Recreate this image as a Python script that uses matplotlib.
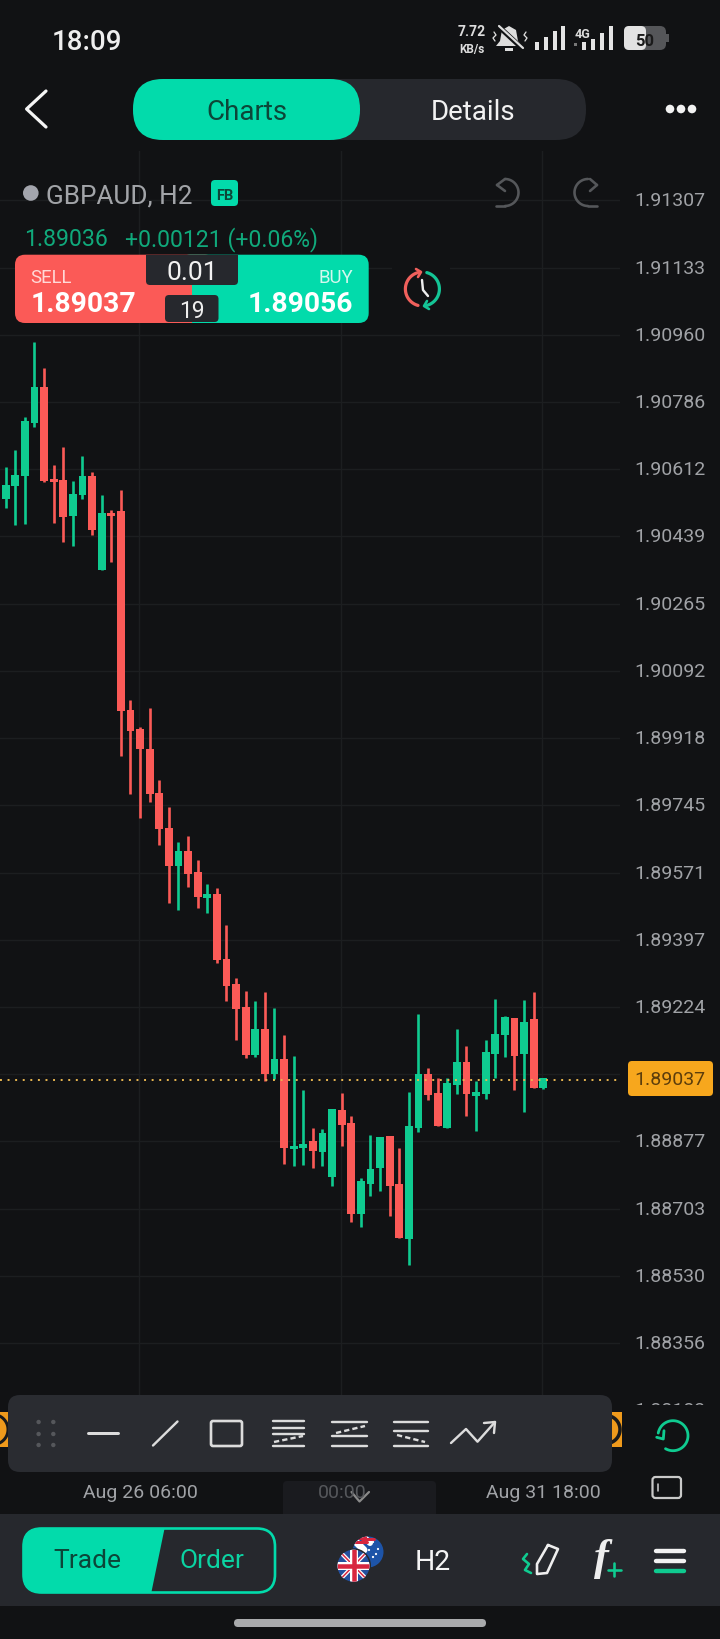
#!/usr/bin/env python
# -*- coding: utf-8 -*-
# GBPAUD H2 candles inside the trading app screen
import numpy as np
import matplotlib
matplotlib.use('Agg')
import matplotlib.pyplot as plt
from matplotlib.patches import FancyBboxPatch, Rectangle, Circle, Polygon

plt.rcParams['font.family'] = ['Roboto', 'DejaVu Sans']

# candle values
opens = [1.90537, 1.90570, 1.90596, 1.90731, 1.90825, 1.90587, 1.90584, 1.90491, 1.90547, 1.90594,
         1.90353, 1.90500, 1.90505, 1.89992, 1.89942, 1.89890, 1.89778, 1.89686, 1.89589, 1.89628,
         1.89574, 1.89506, 1.89516, 1.89347, 1.89284, 1.89224, 1.89100, 1.89167, 1.89050, 1.89090,
         1.88857, 1.88861, 1.88877, 1.88851, 1.88785, 1.88959, 1.88926, 1.88690, 1.88768, 1.88809,
         1.88891, 1.88767, 1.88625, 1.88911, 1.89050, 1.89002, 1.88913, 1.89024, 1.89081, 1.88995,
         1.89000, 1.89103, 1.89153, 1.89195, 1.89102, 1.89194, 1.89014]
highs = [1.90619, 1.90663, 1.90748, 1.90940, 1.90875, 1.90624, 1.90671, 1.90582, 1.90648, 1.90605,
         1.90547, 1.90508, 1.90560, 1.90017, 1.89946, 1.89996, 1.89810, 1.89740, 1.89651, 1.89666,
         1.89603, 1.89542, 1.89531, 1.89437, 1.89298, 1.89266, 1.89240, 1.89262, 1.89221, 1.89152,
         1.89099, 1.89011, 1.88913, 1.88909, 1.88961, 1.89003, 1.88944, 1.88783, 1.88895, 1.88888,
         1.88891, 1.88860, 1.89006, 1.89206, 1.89068, 1.89042, 1.89042, 1.89167, 1.89124, 1.89032,
         1.89140, 1.89246, 1.89200, 1.89197, 1.89243, 1.89264, 1.89042]
lows = [1.90513, 1.90469, 1.90471, 1.90721, 1.90579, 1.90474, 1.90424, 1.90415, 1.90535, 1.90443,
        1.90353, 1.90372, 1.89872, 1.89774, 1.89712, 1.89754, 1.89643, 1.89493, 1.89474, 1.89535,
        1.89479, 1.89466, 1.89337, 1.89240, 1.89140, 1.89092, 1.89094, 1.89034, 1.89038, 1.88819,
        1.88815, 1.88816, 1.88808, 1.88815, 1.88761, 1.88865, 1.88668, 1.88655, 1.88737, 1.88749,
        1.88685, 1.88627, 1.88559, 1.88901, 1.88983, 1.88916, 1.88913, 1.88999, 1.88944, 1.88904,
        1.88987, 1.89040, 1.89095, 1.89010, 1.88952, 1.89016, 1.89012]
closes = [1.90573, 1.90599, 1.90736, 1.90824, 1.90583, 1.90579, 1.90490, 1.90550, 1.90594, 1.90455,
          1.90500, 1.90491, 1.89989, 1.89936, 1.89890, 1.89774, 1.89684, 1.89589, 1.89628, 1.89568,
          1.89509, 1.89516, 1.89346, 1.89279, 1.89218, 1.89100, 1.89167, 1.89050, 1.89089, 1.88860,
          1.88866, 1.88871, 1.88852, 1.88899, 1.88961, 1.88920, 1.88689, 1.88774, 1.88807, 1.88888,
          1.88761, 1.88627, 1.88917, 1.89050, 1.88998, 1.88916, 1.89028, 1.89082, 1.88999, 1.89004,
          1.89107, 1.89154, 1.89198, 1.89099, 1.89185, 1.89016, 1.89040]

price_ticks = [1.91307, 1.91133, 1.90960, 1.90786, 1.90612, 1.90439, 1.90265, 1.90092, 1.89918,
               1.89745, 1.89571, 1.89397, 1.89224, 1.89050, 1.88877, 1.88703, 1.88530, 1.88356, 1.88183]
hidden_tick = 1.89050  # sits behind the last price tag
last_price = 1.89037
time_ticks = [13.86, 34.88, 55.87]
time_labels = ['Aug 26 06:00', '00:00', 'Aug 31 18:00']

BG = '#111214'
GRID = '#1c1e20'
PANEL = '#26282d'
TOOLBAR = '#2a2c31'
GREEN = '#0fcb90'
RED = '#fb5a57'
MINT = '#02dbab'
ORANGE = '#f7a71d'
WHITE = '#ececec'
DARKTEXT = '#0c4638'
LABEL = '#a0a2a6'

fig = plt.figure(figsize=(7.2, 16.4), dpi=100, facecolor=BG)

# ---- candle area: left 620 px of the screen, from y=152 down to y=1420
ax = fig.add_axes([0, 1 - 1420 / 1640, 620 / 720, (1420 - 152) / 1640], facecolor=BG)
x = np.arange(len(opens))
o, h, l, c = map(np.array, (opens, highs, lows, closes))
colors = np.where(c >= o, GREEN, RED)
ax.vlines(x, l, h, colors=colors, linewidth=1.9, zorder=3)
ax.bar(x, np.abs(c - o), bottom=np.minimum(o, c), width=0.82, color=colors, linewidth=0, zorder=3)
ax.axhline(last_price, color='#e8b650', linewidth=1.4, linestyle=(0, (1.0, 2.9)), zorder=4)

ax.set_xlim(-0.5906, 63.99)
ax.set_ylim(1.881605, 1.914343)
ax.set_xticks(time_ticks)
ax.set_xticklabels([])
ax.set_yticks(price_ticks)
ax.set_yticklabels(['' if p == hidden_tick else '%.5f' % p for p in price_ticks], va='center')
ax.yaxis.tick_right()
ax.tick_params(axis='y', length=0, pad=10.4, labelsize=14, labelcolor=LABEL)
ax.tick_params(axis='x', length=0)
ax.grid(True, color=GRID, linewidth=1.0, zorder=0)
ax.set_axisbelow(True)
for s in ax.spines.values():
    s.set_visible(False)

# ---- app chrome on top, in screen pixels
ui = fig.add_axes([0, 0, 1, 1], zorder=5)
ui.set_xlim(0, 720)
ui.set_ylim(1640, 0)
ui.axis('off')


def box(x0, y0, x1, y1, color, r=0, zorder=2, **kw):
    if r:
        p = FancyBboxPatch((x0, y0), x1 - x0, y1 - y0, boxstyle='round,pad=0,rounding_size=%g' % r,
                           facecolor=color, edgecolor=kw.pop('edge', 'none'), zorder=zorder, **kw)
    else:
        p = Rectangle((x0, y0), x1 - x0, y1 - y0, facecolor=color, edgecolor='none', zorder=zorder, **kw)
    ui.add_patch(p)
    return p


def label(px, py, s, size, color=WHITE, ha='center', weight='normal', zorder=6, **kw):
    return ui.text(px, py, s, fontsize=size, color=color, ha=ha, va='center_baseline',
                   fontweight=weight, zorder=zorder, **kw)


def line(xs, ys, color=WHITE, w=3, zorder=5, **kw):
    kw.setdefault('solid_capstyle', 'round')
    return ui.plot(xs, ys, color=color, linewidth=w * 0.72, zorder=zorder, **kw)[0]


def arc(cx, cy, r, a0, a1, color, w=3, zorder=5, ry=None):
    t = np.radians(np.linspace(a0, a1, 60))
    return line(cx + r * np.cos(t), cy + (ry or r) * np.sin(t), color, w, zorder)


# strip under the chart hides the last price label and grid ends
box(0, 1406, 720, 1640, BG, zorder=1)

# status bar
label(87, 40, '18:09', 20, '#eeeeee', weight='medium')
label(472, 31, '7.72', 10, '#dddddd', weight='bold')
label(472, 48, 'KB/s', 8.5, '#dddddd', weight='bold')
ui.add_patch(Polygon([[509, 27], [516, 31], [518, 42], [522, 47], [496, 47], [500, 42], [502, 31]],
                     facecolor='#dddddd', edgecolor='none', zorder=4))
box(505, 48.5, 513, 52, '#dddddd', zorder=4)
line([497, 524], [26, 51], BG, 5, zorder=5)
line([499, 523], [27, 49], '#dddddd', 2.2, zorder=6)
line([494, 496, 493, 495], [33, 36, 39, 42], '#dddddd', 1.3)
line([526, 524, 527, 525], [33, 36, 39, 42], '#dddddd', 1.3)
for bx, top in zip([537, 546, 555, 563], [43, 38, 32, 27]):
    box(bx - 2.4, top, bx + 2.4, 51, '#e4e4e4', zorder=3)
label(582, 33, '4G', 9, '#dddddd', weight='bold')
for bx, top in zip([584, 593, 602, 611], [43, 40, 34, 27]):
    box(bx - 2.2, top, bx + 2.2, 51, '#e4e4e4', zorder=3)
box(574, 44, 577, 47, '#777777', zorder=3)
box(624, 27, 666, 51, '#555659', r=6, zorder=3)
box(624, 27, 646, 51, '#e2e2e2', r=5, zorder=3)
box(666, 35, 669, 43, '#555659', zorder=3)
label(645, 39.5, '50', 12, '#1a1a1a', weight='bold')

# header
line([46, 26.6, 46], [92, 110, 128], '#f5f5f5', 3.2)
box(133, 80, 586, 141, PANEL, r=30)
box(133, 80, 360, 141, MINT, r=30, zorder=3)
label(246.6, 110, 'Charts', 20, DARKTEXT)
label(473, 110, 'Details', 20, '#f2f2f2')
for dx in [670, 681, 692]:
    ui.add_patch(Circle((dx, 110), 4.3, facecolor='#f2f2f2', edgecolor='none', zorder=4))

# symbol line
ui.add_patch(Circle((30.8, 194), 7.8, facecolor='#a3a5ad', edgecolor='none', zorder=4))
label(46, 194, 'GBPAUD, H2', 18.8, '#a2a4a8', ha='left')
box(211, 181, 238, 207, MINT, r=4, zorder=4)
label(224.5, 194, 'FB', 10.5, DARKTEXT, weight='bold')
# undo / redo
arc(505, 193.5, 13.5, -90, 90, '#55575a', 2.6)
line([505, 496], [207, 207], '#55575a', 2.6)
line([497, 505], [186, 180], '#55575a', 2.6)
line([497, 505], [186, 192], '#55575a', 2.6)
arc(588, 193.5, 13.5, 90, 270, '#55575a', 2.6)
line([588, 597], [207, 207], '#55575a', 2.6)
line([590, 597], [180, 186], '#55575a', 2.6)
line([597, 590], [186, 192], '#55575a', 2.6)

label(24, 237, '1.89036', 16.6, '#10a97b', ha='left')
label(125, 237, '+0.00121 (+0.06%)', 16.6, '#10a97b', ha='left')

# sell / buy panel
box(15, 255.7, 215, 324, RED, r=10, zorder=3)
box(180, 255.7, 368.7, 324, MINT, r=10, zorder=3)
box(180, 255.7, 191.5, 324, RED, zorder=3)
box(146, 256, 238, 286, PANEL, r=4, zorder=4)
box(146, 256, 238, 270, PANEL, zorder=4)
box(165, 296, 218.5, 323, PANEL, r=4, zorder=4)
label(192, 270, '0.01', 19, '#f2f2f2')
label(192, 309, '19', 16.4, '#eeeeee')
label(30, 276, 'SELL', 13.4, '#ffd9d7', ha='left')
label(31, 302, '1.89037', 20.3, '#ffffff', ha='left', weight='bold')
label(353, 276, 'BUY', 13.4, '#d5f8ee', ha='right')
label(353, 302, '1.89056', 20.3, '#ffffff', ha='right', weight='bold')

# sync clock
box(392, 262, 450, 318, BG, zorder=1.5)
arc(422.4, 290, 17, 105, 255, '#f0605c', 3.2)
arc(422.4, 290, 17, -75, 75, '#14c596', 3.2)
line([416, 421, 418], [270, 273, 278], '#f0605c', 2.6)
line([429, 424, 427], [310, 307, 302], '#14c596', 2.6)
line([422, 423, 428], [281, 291, 297], '#eeeeee', 2.4)

# last price tag
box(628, 1062, 713, 1097, ORANGE, r=4, zorder=3)
label(670, 1078.5, '%.5f' % last_price, 14, '#5c3d0c')

# drawing toolbar, with the time slider handles poking out
lh = box(0, 1413, 8, 1448, '#ef9a1c', zorder=2)
arc(-7, 1430.5, 15, -70, 70, '#1a1a1a', 3, zorder=3).set_clip_path(lh)
rh = box(612, 1413, 622, 1448, '#ef9a1c', zorder=2)
arc(606, 1430.5, 14, -70, 70, '#1a1a1a', 3.5, zorder=3).set_clip_path(rh)
box(8, 1396, 612, 1473, TOOLBAR, r=12, zorder=3)
for gx in [38.6, 53.3]:
    for gy in [1423, 1435, 1446]:
        ui.add_patch(Circle((gx, gy), 2.2, facecolor='#55575b', edgecolor='none', zorder=4))
ICON = '#dcdcdc'
line([88, 118], [1434, 1434], ICON, 3)
line([153, 177.5], [1446.5, 1422.5], ICON, 2.4)
box(211, 1422, 242, 1447, 'none', r=2, zorder=4, edge=ICON, linewidth=1.9)
for yy in [1422, 1428.5, 1435, 1447]:
    line([272.5, 303.5], [yy, yy], ICON, 2.4)
line([274, 303], [1443, 1437], ICON, 2.4, linestyle=(0, (2.2, 1.3)))
for yy in [1422.5, 1437, 1447]:
    line([332, 367], [yy, yy], ICON, 2.4)
line([336, 365], [1434, 1427], ICON, 2.4, linestyle=(0, (2.2, 1.3)))
for yy in [1422.5, 1432, 1447]:
    line([393.5, 428], [yy, yy], ICON, 2.4)
line([397, 425], [1436, 1443], ICON, 2.4, linestyle=(0, (2.2, 1.3)))
line([451, 466, 477.5, 495], [1444, 1430, 1442.7, 1423], ICON, 2.4)
line([484, 495, 494], [1424, 1423, 1434], ICON, 2.4)

# time axis labels and the collapse tab
box(283, 1482, 436, 1520, '#1a1b1f', r=4, zorder=2)
for t, lab in zip(time_ticks, time_labels):
    px = 7 + 9.6 * t
    label(px, 1491.5, lab, 14, '#55575b' if lab == '00:00' else LABEL)
line([351.5, 359.5, 369], [1493, 1502.5, 1493], '#8a8a8a', 2.2)

# reset and layout buttons
arc(673, 1436.7, 15, 190, 480, GREEN, 2.8)
line([664, 663.3, 656.7], [1431.7, 1440, 1438.3], GREEN, 2.8)
box(652.5, 1478, 681, 1499, 'none', r=3, zorder=4, edge='#c9c9c9', linewidth=1.6)
line([657.5, 657.5], [1485, 1492], '#c9c9c9', 1.6)

# bottom bar
box(0, 1515, 720, 1607, PANEL, zorder=3)
box(23.5, 1529.5, 275, 1593.5, 'none', r=18, zorder=5, edge=MINT, linewidth=1.9)
fill = box(23, 1529, 275.5, 1594, MINT, r=18, zorder=4)
fill.set_clip_path(Polygon([[0, 1520], [166.5, 1520], [150, 1600], [0, 1600]], transform=ui.transData))
label(87.7, 1559, 'Trade', 19, DARKTEXT)
label(212, 1559, 'Order', 19, '#0bd3a2')

# flags
au = Circle((368, 1553), 15.5, facecolor='#1d54a8', edgecolor='none', zorder=5)
ui.add_patch(au)
for xa, ya, wa, ca in [(352, 1545, 7, 'white'), (358, 1538, 6, 'white'), (355, 1543, 3, '#d8263f'),
                       (362, 1540, 3, '#d8263f')]:
    line([xa, xa + 12], [ya - 6, ya + 6] if wa > 5 else [ya, ya], ca, wa, zorder=5.1).set_clip_path(au)
box(352, 1536, 367, 1541, '#d8263f', zorder=5.1).set_clip_path(au)
for sx, sy in [(373, 1543), (378, 1550), (373, 1558), (369, 1551), (376, 1555)]:
    ui.add_patch(Circle((sx, sy), 1.1, facecolor='white', edgecolor='none', zorder=5.2))
ui.add_patch(Circle((353.5, 1566.7), 17.5, facecolor=PANEL, edgecolor='none', zorder=5.3))
uk = Circle((353.5, 1566.7), 16, facecolor='#24509f', edgecolor='none', zorder=5.4)
ui.add_patch(uk)
for d in [1, -1]:
    line([338, 369], [1566.7 - d * 16, 1566.7 + d * 16], 'white', 4, zorder=5.5,
         solid_capstyle='butt').set_clip_path(uk)
    line([338, 369], [1566.7 - d * 16, 1566.7 + d * 16], '#d8263f', 1.5, zorder=5.6,
         solid_capstyle='butt').set_clip_path(uk)
for z, wd, col in [(5.7, 8, 'white'), (5.8, 4.5, '#d8263f')]:
    line([353.5, 353.5], [1550, 1583], col, wd, zorder=z, solid_capstyle='butt').set_clip_path(uk)
    line([337, 370], [1566.7, 1566.7], col, wd, zorder=z, solid_capstyle='butt').set_clip_path(uk)

label(433, 1560, 'H2', 20.5, '#f5f5f5')

# pencil, f+ and menu
line([548, 558, 547, 537, 537, 548], [1546, 1550, 1574, 1575, 1565, 1546], '#eeeeee', 2.6)
line([527, 523, 529, 525, 531], [1555, 1560, 1565, 1571, 1574], GREEN, 2.6)
ui.text(601, 1559, 'f', fontsize=32, family='Liberation Serif', style='italic', weight='bold',
        color='#eeeeee', ha='center', va='center', zorder=6)
line([614, 614], [1564, 1577], GREEN, 2.6)
line([607.5, 620.5], [1570.7, 1570.7], GREEN, 2.6)
line([656, 684], [1551.7, 1551.7], '#f2f2f2', 4.4)
line([656, 684], [1561.7, 1561.7], '#f2f2f2', 4.4)
line([656, 684], [1571.5, 1571.5], GREEN, 4.4)

# gesture pill
box(234, 1620, 486, 1628, '#a9aaac', r=4, zorder=3)

fig.savefig('out.png', dpi=100, facecolor=BG)
